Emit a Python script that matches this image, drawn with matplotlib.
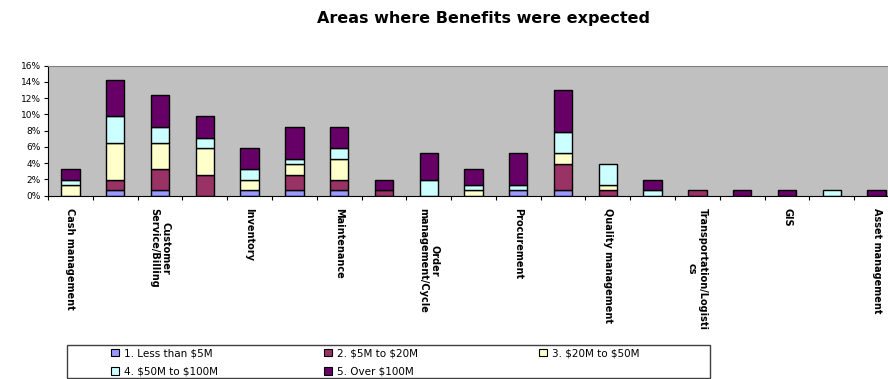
import numpy as np
import matplotlib
matplotlib.use('Agg')
import matplotlib.pyplot as plt
from matplotlib.patches import Rectangle, Patch

plt.rcParams['font.family'] = ['DejaVu Sans']

# one category per bar; only every other name is printed on the axis
categories = ['Cash management', '', 'Customer\nService/Billing', '', 'Inventory', '',
              'Maintenance', '', 'Order\nmanagement/Cycle', '', 'Procurement', '',
              'Quality management', '', 'Transportation/Logisti\ncs', '', 'GIS', '',
              'Asset management']

series = ['1. Less than $5M', '2. $5M to $20M', '3. $20M to $50M',
          '4. $50M to $100M', '5. Over $100M']
colors = ['#9999FF', '#993366', '#FFFFCC', '#CCFFFF', '#660066']

# percentages per category
less_5m = [0, 0.65, 0.65, 0, 0.65, 0.65, 0.65, 0, 0, 0,
           0.65, 0.65, 0, 0, 0, 0, 0, 0, 0]
m5_20 = [0, 1.3, 2.6, 2.6, 0, 1.95, 1.3, 0.65, 0, 0,
         0, 3.25, 0.65, 0, 0.65, 0, 0, 0, 0]
m20_50 = [1.3, 4.55, 3.25, 3.25, 1.3, 1.3, 2.6, 0, 0, 0.65,
          0, 1.3, 0.65, 0, 0, 0, 0, 0, 0]
m50_100 = [0.65, 3.25, 1.95, 1.3, 1.3, 0.65, 1.3, 0, 1.95, 0.65,
           0.65, 2.6, 2.6, 0.65, 0, 0, 0, 0.65, 0]
over_100m = [1.3, 4.55, 3.9, 2.6, 2.6, 3.9, 2.6, 1.3, 3.25, 1.95,
             3.9, 5.2, 0, 1.3, 0, 0.65, 0.65, 0, 0.65]

data = [less_5m, m5_20, m20_50, m50_100, over_100m]

fig = plt.figure(figsize=(8.88, 3.79), dpi=100)
ax = fig.add_axes([48 / 888, 1 - 195.7 / 379, 851 / 888, 130 / 379])
ax.set_facecolor('#C0C0C0')

x = np.arange(len(categories)) + 0.5
bottom = np.zeros(len(categories))
for vals, col in zip(data, colors):
    vals = np.array(vals)
    mask = vals > 0
    ax.bar(x[mask], vals[mask], width=0.41, bottom=bottom[mask], color=col,
           edgecolor='black', linewidth=1.0)
    bottom += vals

ax.set_xlim(0, len(categories))
ax.set_ylim(0, 16)
ax.set_yticks(range(0, 17, 2))
ax.set_yticklabels([f'{v}%' for v in range(0, 17, 2)], fontsize=6.5)
ax.tick_params(axis='y', length=3, width=0.8, pad=2)

ax.set_xticks(x)
ax.set_xticklabels(categories, rotation=-90, fontsize=7, fontweight='bold',
                   va='top', ha='center', multialignment='center')
ax.set_xticks(np.arange(len(categories) + 1), minor=True)
ax.tick_params(axis='x', which='major', length=0, pad=9)
ax.tick_params(axis='x', which='minor', length=3, width=0.8)

for side in ['top', 'right']:
    ax.spines[side].set_color('#808080')
for side in ['left', 'bottom']:
    ax.spines[side].set_color('black')

fig.text(483 / 888, 1 - 18 / 379, 'Areas where Benefits were expected',
         ha='center', va='center', fontsize=11.5, fontweight='bold')

# legend box, entries laid out row by row in three columns
fig.patches.append(Rectangle((67 / 888, 1 / 379), (710 - 67) / 888, (379 - 345 - 1) / 379,
                             transform=fig.transFigure, facecolor='white',
                             edgecolor='#404040', linewidth=1.0))
handles = [Patch(facecolor=c, edgecolor='black', linewidth=0.8) for c in colors]
columns = [[0, 3], [1, 4], [2]]
col_x = [111, 324, 539]
for idx, cx in zip(columns, col_x):
    leg = fig.legend([handles[i] for i in idx], [series[i] for i in idx],
                     loc='upper left', bbox_to_anchor=(cx / 888, 1 - 348 / 379),
                     frameon=False, fontsize=7.5, handlelength=0.75, handleheight=0.75,
                     handletextpad=0.45, labelspacing=0.85, borderpad=0,
                     borderaxespad=0)
    for t in leg.get_texts():
        t.set_parse_math(False)

fig.savefig('out.png', dpi=100)
